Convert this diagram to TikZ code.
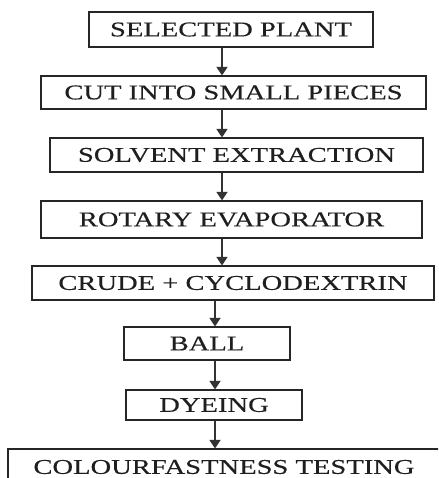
\documentclass[tikz,border=0pt]{standalone}
\usepackage{fontspec}
\setmainfont{Liberation Serif}[FakeStretch=1.36,FakeBold=0.35]
\usetikzlibrary{arrows.meta}
\begin{document}
\begin{tikzpicture}[x=1pt,y=-1pt,
  box/.style={draw=black!85, line width=1.2pt, inner sep=0pt, font=\fontsize{21}{21}\selectfont, text=black!88},
  arr/.style={draw=black!80, line width=1.7pt, -{Triangle[length=8.5pt,width=11pt]}}]
\clip (0,0) rectangle (438,478);
\fill[white] (0,0) rectangle (438,478);
\node[box, minimum width=284pt, minimum height=35pt] (b1) at (231,29.5) {SELECTED PLANT};
\node[box, minimum width=385pt, minimum height=33pt] (b2) at (233.5,92.5) {CUT INTO SMALL PIECES};
\node[box, minimum width=373pt, minimum height=34pt] (b3) at (236.5,155) {SOLVENT EXTRACTION};
\node[box, minimum width=381pt, minimum height=37pt] (b4) at (231.5,219.5) {ROTARY EVAPORATOR};
\node[box, minimum width=402pt, minimum height=34pt] (b5) at (233,283) {CRUDE + CYCLODEXTRIN};
\node[box, minimum width=166pt, minimum height=33pt] (b6) at (207,343.5) {BALL};
\node[box, minimum width=176pt, minimum height=30pt] (b7) at (214,405) {DYEING};
\node[box, minimum width=432pt, minimum height=52pt] (b8) at (224,475) {};
\node[font=\fontsize{21}{21}\selectfont, text=black!88, inner sep=0pt] (t8) at (224,467) {COLOURFASTNESS TESTING};
\coordinate (ca) at (222,0);
\coordinate (cb) at (215,0);
\draw[arr] (b1.south -| ca) -- (b2.north -| ca);
\draw[arr] (b2.south -| ca) -- (b3.north -| ca);
\draw[arr] (b3.south -| ca) -- (b4.north -| ca);
\draw[arr] (b4.south -| ca) -- (b5.north -| ca);
\draw[arr] (b5.south -| cb) -- (b6.north -| cb);
\draw[arr] (b6.south -| cb) -- (b7.north -| cb);
\draw[arr] (b7.south -| cb) -- (b8.north -| cb);
\end{tikzpicture}
\end{document}
